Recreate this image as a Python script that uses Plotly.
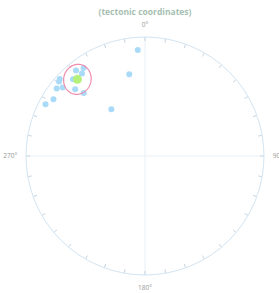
import numpy as np
import plotly.graph_objects as go

# Pole directions (tectonic coordinates): trend (deg, clockwise from N), plunge (deg)
pole_trend = [356.1, 349.1, 312.1, 310.9, 307.4, 309.8, 301.8, 297.5, 321.1, 325.1, 322.6, 316.8, 313.7, 315.8, 324.2]
pole_plunge = [11.7, 30.8, 3.9, 5.0, 7.3, 10.9, 10.4, 6.4, 8.5, 10.7, 13.9, 12.6, 20.0, 27.0, 50.0]

mean_trend = [318.6]
mean_plunge = [15.2]

# confidence ellipse (projected units): semi-axes and rotation
ell_a = 0.115
ell_b = 0.127
ell_rot = -15.0

tick_angles = list(range(0, 360, 10))
tick_labels = {0: "0°", 90: "90°", 180: "180°", 270: "270°"}
inner_tick_len = 0.034  # fraction of radius


def equal_area(plunge):
    p = np.radians(np.asarray(plunge, dtype=float))
    return np.sqrt(2) * np.sin((np.pi / 2 - p) / 2)


pole_r = equal_area(pole_plunge)
mean_r = equal_area(mean_plunge)

# ellipse around the mean in projected cartesian coords
mt = np.radians(mean_trend[0])
cx, cy = mean_r[0] * np.sin(mt), mean_r[0] * np.cos(mt)
t = np.linspace(0, 2 * np.pi, 181)
rot = np.radians(ell_rot)
ex = ell_a * np.cos(t)
ey = ell_b * np.sin(t)
x = cx + ex * np.cos(rot) - ey * np.sin(rot)
y = cy + ex * np.sin(rot) + ey * np.cos(rot)
ell_r = np.sqrt(x ** 2 + y ** 2)
ell_theta = np.degrees(np.arctan2(x, y)) % 360

# inner tick segments
tk_r, tk_t = [], []
for a in tick_angles:
    tk_r += [1 - inner_tick_len, 1, None]
    tk_t += [a, a, None]

fig = go.Figure()

grid_col = "#eaf0f5"
fig.add_trace(go.Scatterpolar(r=[1, 0, 1], theta=[0, 0, 180], mode="lines",
                              line=dict(color=grid_col, width=1), hoverinfo="skip"))
fig.add_trace(go.Scatterpolar(r=[1, 0, 1], theta=[90, 90, 270], mode="lines",
                              line=dict(color=grid_col, width=1), hoverinfo="skip"))
fig.add_trace(go.Scatterpolar(r=tk_r, theta=tk_t, mode="lines",
                              line=dict(color="#c6d4e0", width=1), hoverinfo="skip"))

fig.add_trace(go.Scatterpolar(r=pole_r, theta=pole_trend, mode="markers",
                              marker=dict(color="#a9dbf8", size=6, line=dict(width=0)),
                              name="poles"))
fig.add_trace(go.Scatterpolar(r=ell_r, theta=ell_theta, mode="lines",
                              line=dict(color="#f08cae", width=1.2), name="ellipse"))
fig.add_trace(go.Scatterpolar(r=mean_r, theta=mean_trend, mode="markers",
                              marker=dict(color="#b4f07a", size=9, line=dict(width=0)),
                              name="mean"))

W, H = 279, 293
x0, x1 = 26, 264
y0, y1 = 37, 275

fig.update_layout(
    width=W, height=H,
    margin=dict(l=0, r=0, t=0, b=0),
    paper_bgcolor="white",
    showlegend=False,
    title=dict(text="<b>(tectonic coordinates)</b>", x=145 / W, xanchor="center",
               y=1 - 12 / H, yanchor="middle",
               font=dict(family="Open Sans", size=8.5, color="#a6bfb2")),
    polar=dict(
        domain=dict(x=[x0 / W, x1 / W], y=[1 - y1 / H, 1 - y0 / H]),
        bgcolor="white",
        radialaxis=dict(visible=False, range=[0, 1]),
        angularaxis=dict(
            rotation=90, direction="clockwise",
            tickmode="array", tickvals=list(tick_labels.keys()),
            ticktext=list(tick_labels.values()),
            ticks="outside", ticklen=7, tickwidth=1, tickcolor="rgba(0,0,0,0)",
            showgrid=False, showline=True, linecolor="#d3e4f1", linewidth=1,
            tickfont=dict(family="Open Sans", size=6.5, color="#999999"),
        ),
    ),
)

fig.write_html("out.html", config={"displayModeBar": False},
               post_script="document.body.style.margin='0px';")
